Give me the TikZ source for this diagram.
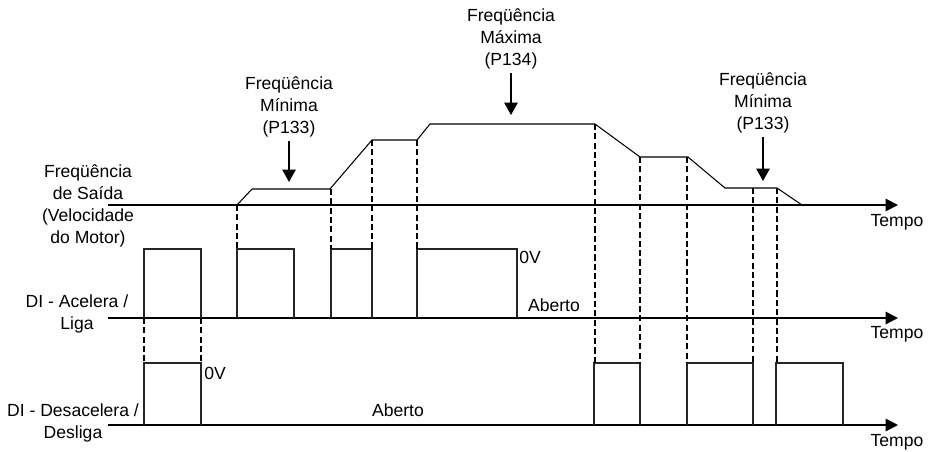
\documentclass[tikz,border=0pt]{standalone}
\usepackage{fontspec}
\setmainfont{Liberation Sans}
\usetikzlibrary{arrows.meta}

\begin{document}
\begin{tikzpicture}[x=0.02cm,y=-0.02cm,
  axis/.style={line width=1.1pt,-{Triangle[width=7pt,length=7pt]}},
  pulse/.style={line width=0.6pt,black!85},
  trace/.style={line width=0.6pt},
  guide/.style={line width=0.9pt,dash pattern=on 3.5pt off 1.8pt},
  pointer/.style={line width=1pt,shorten <=2pt,-{Triangle[width=7.5pt,length=7pt]}},
  lbl/.style={align=center,font=\fontsize{10}{12.5}\selectfont,inner sep=0pt}]
\useasboundingbox (0,0) rectangle (932,451);

% time axes
\coordinate (fstart) at (108,205); \coordinate (fend) at (898,205);
\coordinate (astart) at (108,318); \coordinate (aend) at (898,318);
\coordinate (dstart) at (108,425); \coordinate (dend) at (898,425);
\draw [axis] (fstart)--(fend);
\draw [axis] (astart)--(aend);
\draw [axis] (dstart)--(dend);
\node [lbl] (tf) at (897,222) {Tempo};
\node [lbl] (ta) at (897,334) {Tempo};
\node [lbl] (td) at (897,442) {Tempo};

% signal names
\node [lbl] (nfreq) at (88,205.5) {Freqüência\\de Saída\\(Velocidade\\do Motor)};
\node [lbl] (nacel) at (77,314) {DI - Acelera /\\Liga};
\node [lbl] (ndesa) at (73,422.5) {DI - Desacelera /\\Desliga};

% output frequency
\draw [trace] (237,205)--(252,189)--(330,189)--(372,140)--(417,140)--(430,124)--(595,124)
  --(640,157)--(688,157)--(725,188)--(777,188)--(802,205);

% DI acelera / liga
\draw [pulse] (144,318)--(144,249)--(201,249)--(201,318);
\draw [pulse] (237,318)--(237,249)--(294,249)--(294,318);
\draw [pulse] (331,318)--(331,249)--(372,249)--(372,318);
\draw [pulse] (417,318)--(417,249)--(517,249)--(517,318);
\node [lbl,anchor=west] (va) at (519,257) {0V};
\node [lbl] (oa) at (554,305) {Aberto};

% DI desacelera / desliga
\draw [pulse] (144,425)--(144,363)--(201,363)--(201,425);
\draw [pulse] (594,425)--(594,363)--(640,363)--(640,425);
\draw [pulse] (687,425)--(687,363)--(753,363)--(753,425);
\draw [pulse] (776,425)--(776,363)--(843,363)--(843,425);
\node [lbl,anchor=west] (vd) at (204,373) {0V};
\node [lbl] (od) at (398,410) {Aberto};

% dashed guides
\draw [guide] (237,205)--(237,249);
\draw [guide] (331,189)--(331,249);
\draw [guide] (372,140)--(372,249);
\draw [guide] (417,140)--(417,249);
\draw [guide] (144,318)--(144,363);
\draw [guide] (201,318)--(201,363);
\draw [guide] (595,124)--(595,363);
\draw [guide] (640,157)--(640,363);
\draw [guide] (687,157)--(687,363);
\draw [guide] (753,188)--(753,363);
\draw [guide] (777,188)--(777,363);

% limits
\node [lbl] (pmin1) at (289,107) {Freqüência\\Mínima\\(P133)};
\coordinate (tmin1) at (289,182);
\draw [pointer] (pmin1)--(tmin1);
\node [lbl] (pmax) at (511,39) {Freqüência\\Máxima\\(P134)};
\coordinate (tmax) at (511,115);
\draw [pointer] (pmax)--(tmax);
\node [lbl] (pmin2) at (763,103) {Freqüência\\Mínima\\(P133)};
\coordinate (tmin2) at (763,181);
\draw [pointer] (pmin2)--(tmin2);

\end{tikzpicture}
\end{document}
